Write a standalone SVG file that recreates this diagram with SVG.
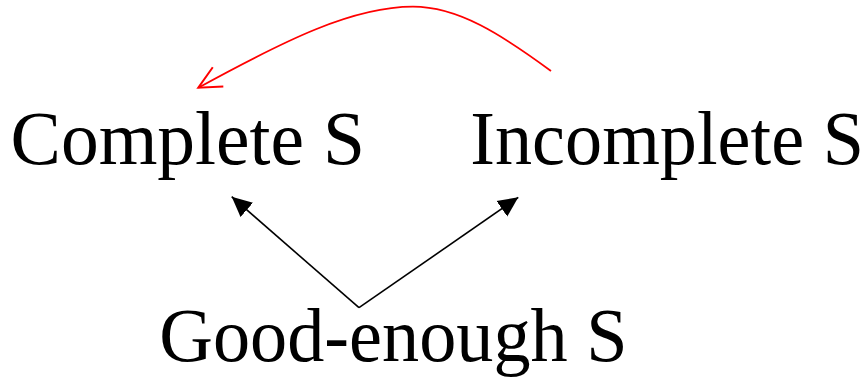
<svg xmlns="http://www.w3.org/2000/svg" width="868" height="377" viewBox="0 0 868 377">
<style>
.lbl{font-family:"Liberation Serif","Times New Roman",serif;font-size:75.5px;fill:#000}
.blk{stroke:#000;stroke-width:1.6;fill:none}
.red{stroke:#f00;stroke-width:1.8;fill:none}
</style>
<defs>
<marker id="ah" markerUnits="userSpaceOnUse" viewBox="0 0 20 20" markerWidth="20" markerHeight="20" refX="20" refY="10" orient="auto">
<path d="M0,0.5 L20,10 L0,19.5 z" fill="#000"/>
</marker>
<marker id="ahr" markerUnits="userSpaceOnUse" viewBox="-2 -2 27 26" markerWidth="27" markerHeight="26" refX="22.5" refY="11" orient="auto">
<path d="M0,0 L22.5,11 L0,22" fill="none" stroke="#f00" stroke-width="2"/>
</marker>
</defs>
<g id="complete"><text class="lbl" x="10.6" y="163.5" textLength="354.3" lengthAdjust="spacingAndGlyphs">Complete S</text></g>
<g id="incomplete"><text class="lbl" x="470.3" y="163.5" textLength="393.6" lengthAdjust="spacingAndGlyphs">Incomplete S</text></g>
<g id="goodenough"><text class="lbl" x="159.3" y="361" textLength="468.3" lengthAdjust="spacingAndGlyphs">Good-enough S</text></g>
<g id="connectors">
<line class="blk" x1="359" y1="307.7" x2="231.7" y2="196.7" marker-end="url(#ah)"/>
<line class="blk" x1="359" y1="307.7" x2="518.3" y2="197.3" marker-end="url(#ah)"/>
<path class="red" d="M551,71 C501,34.2 458,6.7 413,6.7 C353,6.7 285.7,39.9 198.3,87.7" marker-end="url(#ahr)"/>
</g>
</svg>
